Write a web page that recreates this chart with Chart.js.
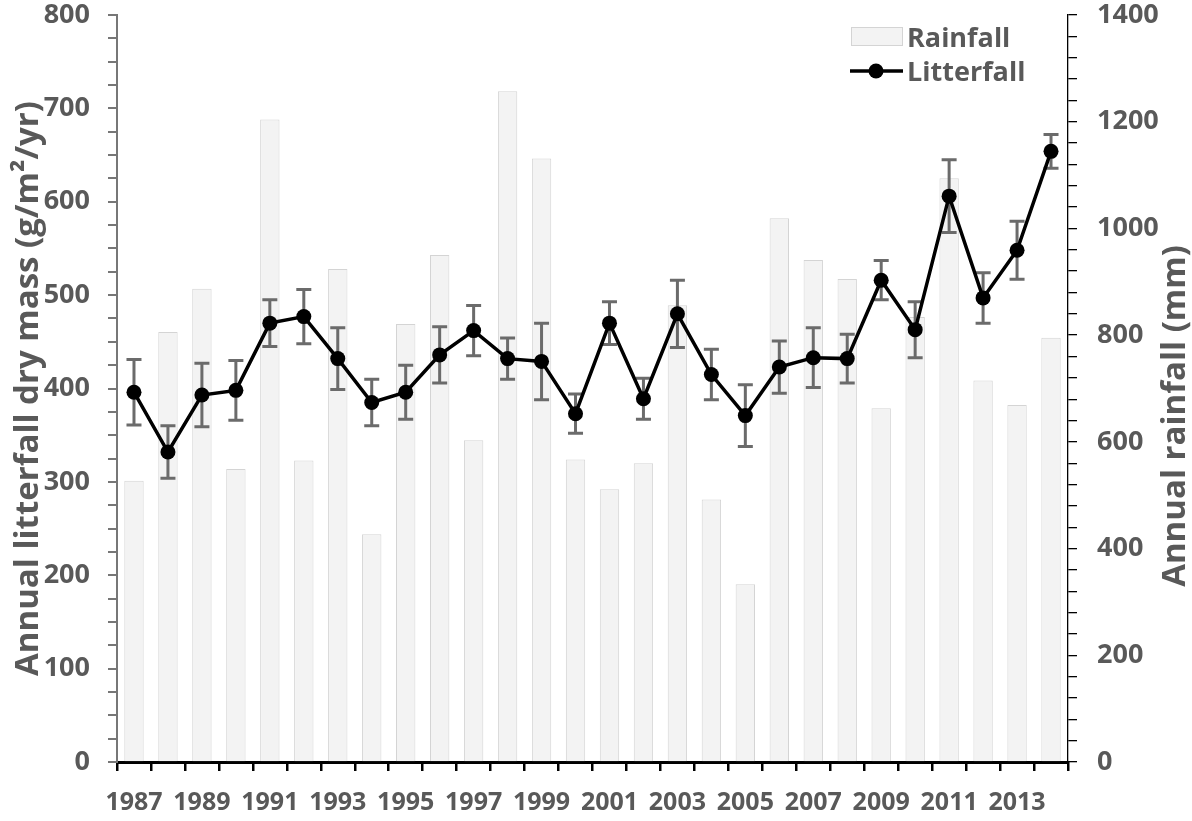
<!DOCTYPE html>
<html>
<head>
<meta charset="utf-8">
<script src="https://cdn.jsdelivr.net/npm/chart.js@4.4.1/dist/chart.umd.min.js"></script>
<style>
  html, body { margin: 0; padding: 0; background: #ffffff; }
  #wrap { width: 1192px; height: 821px; }
</style>
</head>
<body>
<div id="wrap"><canvas id="c" width="1192" height="821"></canvas></div>
<script>
// Annual series, 1987–2014
const years = ['1987','1988','1989','1990','1991','1992','1993','1994','1995','1996','1997','1998','1999','2000',
               '2001','2002','2003','2004','2005','2006','2007','2008','2009','2010','2011','2012','2013','2014'];

// Annual rainfall (mm), right axis
const rainfall = [527, 806, 887, 549, 1204, 565, 924, 427, 821, 950, 603, 1257, 1131, 567,
                  511, 560, 856, 492, 333, 1019, 941, 905, 663, 834, 1094, 715, 669, 795];

// Annual litterfall dry mass (g/m²/yr), left axis
const litterfall = [396, 332, 393, 398, 470, 477, 432, 385, 396, 436, 462, 432, 429, 373,
                    470, 389, 480, 415, 371, 423, 433, 432, 516, 463, 606, 497, 548, 654];

// Error half-widths for litterfall
const litterErr = [35, 28, 34, 32, 25, 29, 33, 25, 29, 30, 27, 22, 41, 21,
                   23, 22, 36, 27, 33, 28, 32, 26, 21, 30, 39, 27, 31, 18];

// Axis ranges and label steps
const leftMax = 800, leftMinorStep = 25, leftMajorStep = 100;
const rightMax = 1400, rightMinorStep = 40, rightMajorStep = 200;

const leftTitle = 'Annual litterfall dry mass (g/m²/yr)';
const rightTitle = 'Annual rainfall (mm)';

const FONT = '"Open Sans", "DejaVu Sans", sans-serif';
const TEXT_GREY = '#595959';
const TITLE_SIZE = 33;

// Error bars drawn just before the litterfall line so markers sit on top
const errorBars = {
  id: 'errorBars',
  beforeDatasetDraw(chart, args) {
    if (args.index !== 0) return;
    const meta = chart.getDatasetMeta(0);
    const y = chart.scales.y;
    const ctx = chart.ctx;
    ctx.save();
    ctx.strokeStyle = '#6b6b6b';
    ctx.lineWidth = 3;
    const cap = 7.5;
    meta.data.forEach((pt, i) => {
      const v = litterfall[i], e = litterErr[i];
      const yt = y.getPixelForValue(v + e);
      const yb = y.getPixelForValue(v - e);
      ctx.beginPath();
      ctx.moveTo(pt.x, yt); ctx.lineTo(pt.x, yb);
      ctx.moveTo(pt.x - cap, yt); ctx.lineTo(pt.x + cap, yt);
      ctx.moveTo(pt.x - cap, yb); ctx.lineTo(pt.x + cap, yb);
      ctx.stroke();
    });
    ctx.restore();
  }
};

// Legend in the upper right of the plot area, plus the right axis title read bottom-to-top
const decorations = {
  id: 'decorations',
  afterDraw(chart) {
    const ctx = chart.ctx;
    const ds = chart.data.datasets;
    const bar = ds[1], line = ds[0];
    ctx.save();
    // Rainfall swatch
    ctx.fillStyle = bar.backgroundColor;
    ctx.strokeStyle = bar.borderColor;
    ctx.lineWidth = 1;
    ctx.fillRect(851, 27, 51, 18);
    ctx.strokeRect(851.5, 27.5, 51, 18);
    // Litterfall swatch
    ctx.strokeStyle = line.borderColor;
    ctx.lineWidth = line.borderWidth;
    ctx.beginPath();
    ctx.moveTo(850, 71); ctx.lineTo(903, 71);
    ctx.stroke();
    ctx.fillStyle = line.pointBackgroundColor;
    ctx.beginPath();
    ctx.arc(876, 71, line.pointRadius, 0, Math.PI * 2);
    ctx.fill();
    // Legend labels
    ctx.fillStyle = TEXT_GREY;
    ctx.font = 'bold 27px ' + FONT;
    ctx.textAlign = 'left';
    ctx.textBaseline = 'alphabetic';
    ctx.fillText(bar.label, 907, 47);
    ctx.fillText(line.label, 907, 81);
    // Right axis title
    ctx.font = 'bold ' + TITLE_SIZE + 'px ' + FONT;
    ctx.textAlign = 'center';
    ctx.textBaseline = 'middle';
    ctx.translate(1176, 416);
    ctx.rotate(-Math.PI / 2);
    ctx.fillText(rightTitle, 0, 0);
    ctx.restore();
  }
};

new Chart(document.getElementById('c'), {
  type: 'bar',
  data: {
    labels: years,
    datasets: [
      {
        type: 'line',
        label: 'Litterfall',
        data: litterfall,
        yAxisID: 'y',
        borderColor: '#000000',
        borderWidth: 3.5,
        pointRadius: 7.5,
        pointBackgroundColor: '#000000',
        pointBorderColor: '#000000',
        pointBorderWidth: 0,
        tension: 0,
        order: 0
      },
      {
        type: 'bar',
        label: 'Rainfall',
        data: rainfall,
        yAxisID: 'y1',
        backgroundColor: '#f3f3f3',
        borderColor: '#d4d4d4',
        borderWidth: 1,
        barPercentage: 0.57,
        categoryPercentage: 1,
        order: 1
      }
    ]
  },
  options: {
    responsive: false,
    animation: false,
    devicePixelRatio: 1,
    layout: { padding: { top: 15, left: 0, right: 0, bottom: 0 } },
    plugins: { legend: { display: false }, tooltip: { enabled: false } },
    scales: {
      x: {
        type: 'category',
        offset: true,
        grid: { offset: true, drawOnChartArea: false, drawTicks: true, tickLength: 9, color: '#000000', lineWidth: 2.5 },
        border: { color: '#000000', width: 3 },
        ticks: {
          autoSkip: false, maxRotation: 0, minRotation: 0, padding: 17,
          color: TEXT_GREY, font: { family: FONT, size: 25, weight: 'bold' },
          callback: (v, i) => (i % 2 === 0 ? years[i] : '')
        },
        afterFit: s => { s.height = 59; s.paddingLeft = 0; s.paddingRight = 0; }
      },
      y: {
        position: 'left',
        min: 0, max: leftMax,
        grid: { drawOnChartArea: false, drawTicks: true, tickLength: 9, color: '#777777', lineWidth: 2 },
        border: { color: '#777777', width: 2 },
        ticks: {
          stepSize: leftMinorStep, autoSkip: false, padding: 18,
          color: TEXT_GREY, font: { family: FONT, size: 27, weight: 'bold' },
          callback: v => (v % leftMajorStep === 0 ? String(v) : '')
        },
        title: {
          display: true, text: leftTitle,
          color: TEXT_GREY, font: { family: FONT, size: TITLE_SIZE, weight: 'bold', lineHeight: 1 },
          padding: { top: 12, bottom: 0 }
        },
        afterFit: s => { s.width = 117; s.paddingTop = 0; s.paddingBottom = 0; }
      },
      y1: {
        position: 'right',
        min: 0, max: rightMax,
        grid: { drawOnChartArea: false, drawTicks: true, tickLength: 9, color: '#000000', lineWidth: 1.3 },
        border: { color: '#000000', width: 1.3 },
        ticks: {
          stepSize: rightMinorStep, autoSkip: false, padding: 20,
          color: TEXT_GREY, font: { family: FONT, size: 27, weight: 'bold' },
          callback: v => (v % rightMajorStep === 0 ? String(v) : '')
        },
        afterFit: s => { s.width = 124; s.paddingTop = 0; s.paddingBottom = 0; }
      }
    }
  },
  plugins: [errorBars, decorations]
});
</script>
</body>
</html>
